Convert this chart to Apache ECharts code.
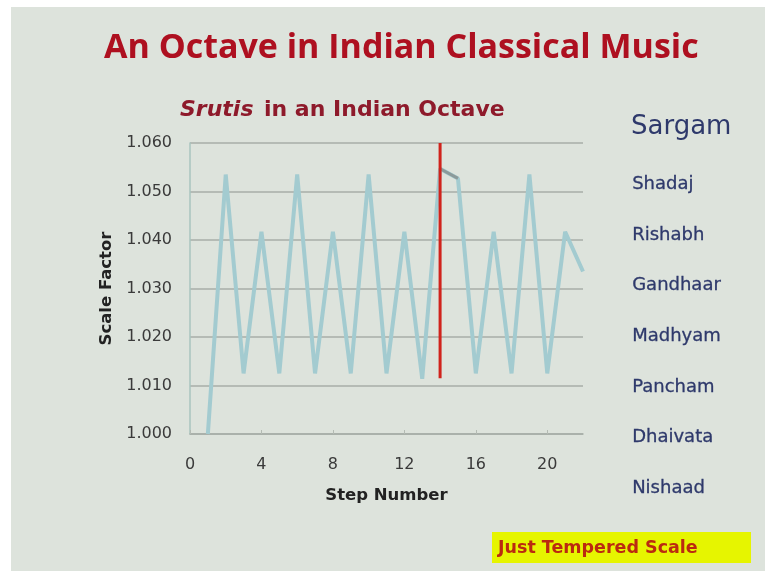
<!DOCTYPE html>
<html>
<head>
<meta charset="utf-8">
<script src="https://cdn.jsdelivr.net/npm/echarts@6/dist/echarts.min.js"></script>
<style>
  html, body { margin: 0; padding: 0; background: #ffffff; }
  #chart { width: 765px; height: 581px; }
</style>
</head>
<body>
<div id="chart"></div>
<script>
// Step numbers and scale factors (ratio of each sruti to the previous one)
const steps = [1, 2, 3, 4, 5, 6, 7, 8, 9, 10, 11, 12, 13, 14, 15, 16, 17, 18, 19, 20, 21, 22];
const scaleFactors = [1.000, 1.0535, 1.0125, 1.0417, 1.0125, 1.0535, 1.0125, 1.0417, 1.0125, 1.0535,
  1.0125, 1.0417, 1.0114, 1.0547, 1.0527, 1.0125, 1.0417, 1.0125, 1.0535, 1.0125, 1.0417, 1.0335];
// Highlighted segment between steps 14 and 15
const highlightSteps = [14, 15];
const highlightValues = [1.0547, 1.0527];
// Marker for the octave boundary at step 14
const markerSteps = [14, 14];
const markerValues = [1.060, 1.0115];
// Axis tick labels
const xTicks = [0, 4, 8, 12, 16, 20];
const yTicks = [1.000, 1.010, 1.020, 1.030, 1.040, 1.050, 1.060];
// Notes of the sargam listed beside the chart
const sargam = ['Shadaj', 'Rishabh', 'Gandhaar', 'Madhyam', 'Pancham', 'Dhaivata', 'Nishaad'];

const zip = (xs, ys) => xs.map((x, i) => [x, ys[i]]);

const chart = echarts.init(document.getElementById('chart'), null, { renderer: 'canvas' });

const noteTexts = sargam.map((name, i) => ({
  type: 'text',
  left: 632,
  top: 175 + i * 50.7,
  style: { text: name, fill: '#2e396b', font: '18px "DejaVu Sans", sans-serif',
    stroke: '#2e396b', lineWidth: 0.3 }
}));

chart.setOption({
  backgroundColor: '#ffffff',
  animation: false,
  graphic: [
    { type: 'rect', shape: { x: 11, y: 7, width: 754, height: 564 }, style: { fill: '#dde3dc' }, z: -10 },
    {
      type: 'text', left: 104, top: 31,
      style: { text: 'An Octave in Indian Classical Music', fill: '#ae1020',
        font: 'bold 34px "Open Sans", sans-serif' }
    },
    {
      type: 'text', left: 180, top: 99,
      style: { text: 'Srutis', fill: '#8e1a2b', font: 'italic bold 22px "DejaVu Sans", sans-serif' }
    },
    {
      type: 'text', left: 264, top: 99,
      style: { text: 'in an Indian Octave', fill: '#8e1a2b', font: 'bold 22px "DejaVu Sans", sans-serif' }
    },
    {
      type: 'text', left: 631, top: 114,
      style: { text: 'Sargam', fill: '#2e396b', font: '26px "DejaVu Sans", sans-serif' }
    },
    ...noteTexts,
    { type: 'rect', shape: { x: 492, y: 532, width: 259, height: 31 }, style: { fill: '#e6f500' } },
    {
      type: 'text', left: 498, top: 539,
      style: { text: 'Just Tempered Scale', fill: '#bb2a10', font: 'bold 17.5px "DejaVu Sans", sans-serif' }
    }
  ],
  grid: { left: 190, right: 182, top: 143, bottom: 147 },
  xAxis: {
    type: 'value', min: 0, max: 22, interval: 4,
    name: 'Step Number', nameLocation: 'middle', nameGap: 53,
    nameTextStyle: { color: '#222', fontSize: 16.5, fontWeight: 'bold', fontFamily: 'DejaVu Sans' },
    axisLine: { show: true, lineStyle: { color: '#a7aea8', width: 1.5 } },
    axisTick: { show: true, inside: true, length: 4, lineStyle: { color: '#b4bbb4' } },
    splitLine: { show: false },
    axisLabel: {
      color: '#3a3a3a', fontSize: 16, fontFamily: 'DejaVu Sans', margin: 23,
      showMaxLabel: false,
      formatter: v => (xTicks.includes(v) ? String(v) : '')
    }
  },
  yAxis: {
    type: 'value', min: 1.0, max: 1.06, interval: 0.01,
    name: 'Scale Factor', nameLocation: 'middle', nameGap: 74,
    nameTextStyle: { color: '#222', fontSize: 16.5, fontWeight: 'bold', fontFamily: 'DejaVu Sans' },
    axisLine: { show: true, lineStyle: { color: '#a9c4bf', width: 1.5 } },
    axisTick: { show: false },
    splitLine: { show: true, lineStyle: { color: '#a7aea8', width: 1.5 } },
    axisLabel: {
      color: '#3a3a3a', fontSize: 16, fontFamily: 'DejaVu Sans', margin: 18,
      formatter: v => {
        const t = yTicks.find(y => Math.abs(y - v) < 1e-6);
        return t === undefined ? '' : t.toFixed(3);
      }
    }
  },
  series: [
    {
      type: 'line', data: zip(steps, scaleFactors), symbol: 'none',
      lineStyle: { color: '#a3cbd0', width: 4 }, z: 2
    },
    {
      type: 'line', data: zip(highlightSteps, highlightValues), symbol: 'none',
      lineStyle: { color: '#8c9a9a', width: 3 }, z: 3
    },
    {
      type: 'line', data: zip(markerSteps, markerValues), symbol: 'none',
      lineStyle: { color: '#d0231c', width: 3 }, z: 4
    }
  ]
});
</script>
</body>
</html>
